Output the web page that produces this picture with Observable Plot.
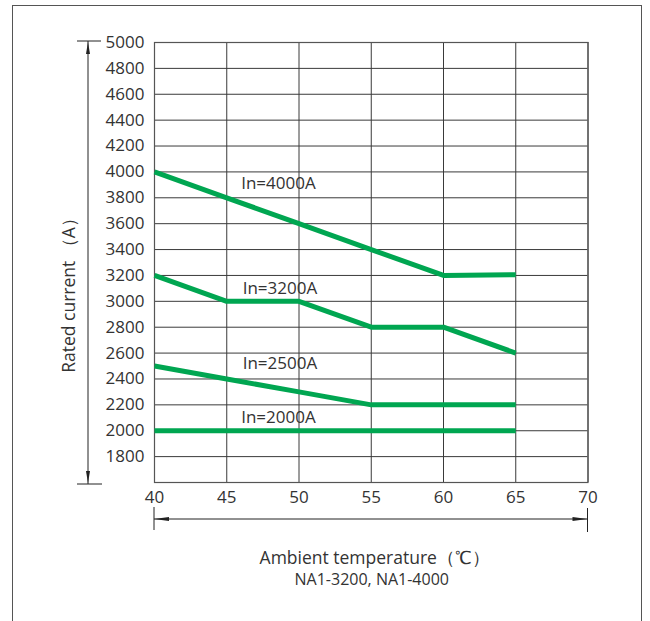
<!DOCTYPE html>
<html><head><meta charset="utf-8">
<script src="https://cdn.jsdelivr.net/npm/d3@7"></script>
<script src="https://cdn.jsdelivr.net/npm/@observablehq/plot@0.6"></script>
<style>
html,body{margin:0;padding:0;background:#fff;}
#wrap{position:relative;width:650px;height:621px;overflow:hidden;}
#border{position:absolute;left:12px;top:5px;width:630px;height:660px;border:1.5px solid #555;box-sizing:border-box;}
#chart{position:absolute;left:0;top:0;}
</style></head><body>
<div id="wrap"><div id="border"></div><div id="chart"></div></div>
<script>
// ---- data ----
const temps = [40, 45, 50, 55, 60, 65];
const seriesNames = ["In=4000A", "In=3200A", "In=2500A", "In=2000A"];
const in4000 = [4000, 3800, 3600, 3400, 3200, 3205];
const in3200 = [3200, 3000, 3000, 2800, 2800, 2600];
const in2500 = [2500, 2400, 2300, 2200, 2200, 2200];
const in2000 = [2000, 2000, 2000, 2000, 2000, 2000];
const xTicks = [40, 45, 50, 55, 60, 65, 70];
const yTicks = [1800, 2000, 2200, 2400, 2600, 2800, 3000, 3200, 3400, 3600, 3800, 4000, 4200, 4400, 4600, 4800, 5000];
const labelTemp = [46.0, 46.1, 46.1, 46.0];
const labelCurrent = [3910, 3100, 2520, 2100];
const xTitle = "Ambient temperature（℃）";
const subtitle = "NA1-3200, NA1-4000";
const yTitle = "Rated current （A）";

const seriesValues = [in4000, in3200, in2500, in2000];
const rows = [];
seriesNames.forEach((s, i) => temps.forEach((t, j) => rows.push({series: s, temp: t, current: seriesValues[i][j]})));
const labels = seriesNames.map((s, i) => ({series: s, temp: labelTemp[i], current: labelCurrent[i]}));

const plot = Plot.plot({
  width: 650, height: 621,
  marginLeft: 154, marginRight: 62.5, marginTop: 42, marginBottom: 139,
  style: {fontFamily: "'Open Sans', sans-serif", fontSize: "17px", color: "#333", background: "transparent", overflow: "visible"},
  x: {domain: [40, 70], ticks: xTicks, tickSize: 0, tickPadding: 8, tickFormat: d3.format("d"), label: null},
  y: {domain: [1600, 5000], ticks: yTicks, tickSize: 0, tickPadding: 10, tickFormat: d3.format("d"), label: null},
  marks: [
    Plot.ruleY(yTicks, {stroke: "#3a3a3a", strokeWidth: 1}),
    Plot.ruleX(xTicks, {stroke: "#3a3a3a", strokeWidth: 1}),
    Plot.frame({stroke: "#555", strokeWidth: 1.2}),
    Plot.line(rows, {x: "temp", y: "current", z: "series", stroke: "#00a651", strokeWidth: 5, strokeLinejoin: "round", strokeLinecap: "butt"}),
    Plot.text(labels, {x: "temp", y: "current", text: "series", textAnchor: "start", fill: "#333", fontSize: 17})
  ]
});
document.getElementById("chart").appendChild(plot);

// decorations using the plot's scales
const svg = d3.select(plot);
const sx = plot.scale("x"), sy = plot.scale("y");
const x0 = sx.apply(40), x1 = sx.apply(70), yTop = sy.apply(5000), yBot = sy.apply(1600);
const ax = x0 - 66;
const g = svg.append("g").attr("stroke", "#222").attr("fill", "#222").attr("stroke-width", 1);
// y arrow
g.append("line").attr("x1", ax).attr("x2", ax).attr("y1", yTop - 1).attr("y2", yBot + 2);
g.append("line").attr("x1", ax - 11).attr("x2", ax + 13).attr("y1", yTop - 1).attr("y2", yTop - 1);
g.append("line").attr("x1", ax - 11).attr("x2", ax + 14).attr("y1", yBot + 2).attr("y2", yBot + 2);
g.append("path").attr("stroke", "none").attr("d", `M${ax},${yTop}L${ax - 2},${yTop + 12}L${ax + 2},${yTop + 12}Z`);
g.append("path").attr("stroke", "none").attr("d", `M${ax},${yBot + 1}L${ax - 2},${yBot - 11}L${ax + 2},${yBot - 11}Z`);
// x arrow
const ay = yBot + 37;
g.append("line").attr("x1", x0).attr("x2", x1).attr("y1", ay).attr("y2", ay);
g.append("line").attr("x1", x0).attr("x2", x0).attr("y1", yBot + 25).attr("y2", yBot + 48);
g.append("line").attr("x1", x1).attr("x2", x1).attr("y1", yBot + 26).attr("y2", yBot + 50);
g.append("path").attr("stroke", "none").attr("d", `M${x0},${ay}L${x0 + 15},${ay - 2}L${x0 + 15},${ay + 2}Z`);
g.append("path").attr("stroke", "none").attr("d", `M${x1},${ay}L${x1 - 15},${ay - 2}L${x1 - 15},${ay + 2}Z`);
// titles
const cx = (x0 + x1) / 2 + 4;
svg.append("text").attr("x", cx).attr("y", yBot + 82).attr("text-anchor", "middle")
  .attr("fill", "#333").style("font-size", "17.5px").text(xTitle);
svg.append("text").attr("x", cx - 3).attr("y", yBot + 103).attr("text-anchor", "middle")
  .attr("fill", "#333").style("font-size", "16px").text(subtitle);
svg.append("text").attr("transform", `translate(${ax - 19},${(yTop + yBot) / 2 + 29}) rotate(-90)`)
  .attr("text-anchor", "middle").attr("dy", "0.35em")
  .attr("fill", "#333").style("font-size", "17.5px").text(yTitle);
</script>
</body></html>
